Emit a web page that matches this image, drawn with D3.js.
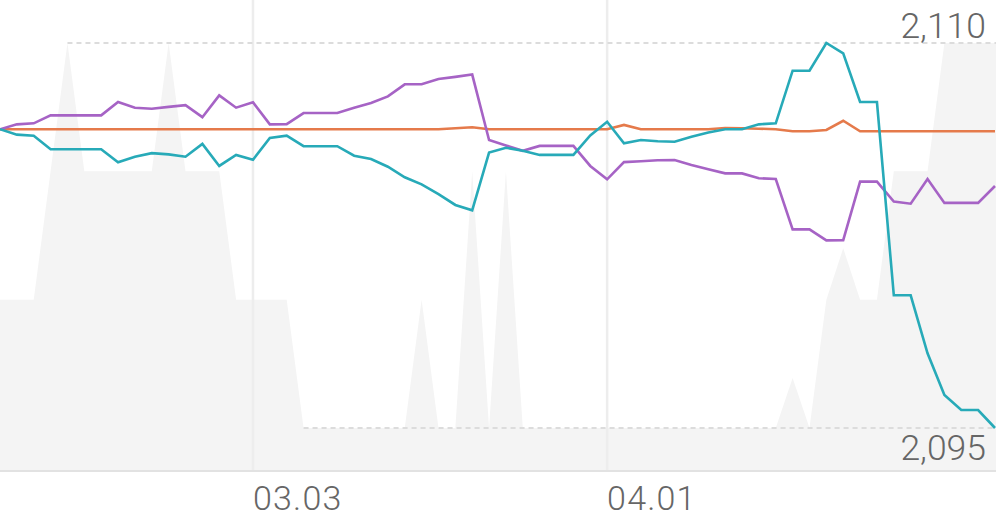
<!DOCTYPE html>
<html><head><meta charset="utf-8">
<script src="https://cdn.jsdelivr.net/npm/d3@7"></script>
<style>html,body{margin:0;padding:0;background:#fff;}svg{display:block;}</style>
</head><body>
<svg id="chart" width="996" height="519"></svg>
<script>
const categories = ["02.10","02.11","02.12","02.13","02.16","02.17","02.18","02.19","02.20","02.23","02.24","02.25","02.26","02.27","03.02","03.03","03.04","03.05","03.06","03.09","03.10","03.11","03.12","03.13","03.16","03.17","03.18","03.19","03.20","03.23","03.24","03.25","03.26","03.27","03.30","03.31","04.01","04.02","04.03","04.06","04.07","04.08","04.09","04.10","04.13","04.14","04.15","04.16","04.17","04.20","04.21","04.22","04.23","04.24","04.27","04.28","04.29","04.30","05.01","05.04"];
const tickLabels = ["03.03","04.01"];
const yTickValues = [2110, 2095];

const seriesCyan = [2106.64,2106.43,2106.39,2105.86,2105.86,2105.86,2105.86,2105.35,2105.57,2105.71,2105.66,2105.57,2106.07,2105.21,2105.64,2105.45,2106.30,2106.39,2105.98,2105.98,2105.98,2105.61,2105.48,2105.18,2104.77,2104.49,2104.11,2103.69,2103.48,2105.73,2105.92,2105.80,2105.64,2105.64,2105.64,2106.40,2106.93,2106.09,2106.22,2106.17,2106.15,2106.35,2106.51,2106.64,2106.64,2106.83,2106.87,2108.92,2108.92,2110.00,2109.60,2107.70,2107.70,2100.17,2100.17,2097.91,2096.29,2095.70,2095.70,2095.00];
const seriesPurple = [2106.64,2106.83,2106.87,2107.18,2107.18,2107.18,2107.18,2107.70,2107.48,2107.44,2107.51,2107.58,2107.11,2107.96,2107.48,2107.69,2106.83,2106.84,2107.27,2107.27,2107.27,2107.48,2107.66,2107.92,2108.39,2108.39,2108.60,2108.68,2108.77,2106.22,2106.01,2105.80,2105.99,2105.99,2105.99,2105.21,2104.69,2105.36,2105.39,2105.43,2105.44,2105.25,2105.08,2104.92,2104.92,2104.73,2104.70,2102.74,2102.74,2102.31,2102.32,2104.60,2104.60,2103.82,2103.74,2104.70,2103.77,2103.77,2103.77,2104.43];
const seriesOrange = [2106.64,2106.64,2106.64,2106.64,2106.64,2106.64,2106.64,2106.64,2106.64,2106.64,2106.64,2106.64,2106.64,2106.64,2106.64,2106.64,2106.64,2106.64,2106.64,2106.64,2106.64,2106.64,2106.64,2106.64,2106.64,2106.64,2106.64,2106.68,2106.72,2106.64,2106.64,2106.64,2106.64,2106.64,2106.64,2106.64,2106.64,2106.81,2106.64,2106.64,2106.64,2106.64,2106.64,2106.69,2106.68,2106.66,2106.64,2106.56,2106.56,2106.61,2106.97,2106.56,2106.56,2106.56,2106.56,2106.56,2106.56,2106.56,2106.56,2106.56];
const seriesArea = [1,1,1,2,3,2,2,2,2,2,3,2,2,2,1,1,1,1,0,0,0,0,0,0,0,1,0,0,2,0,2,0,0,0,0,0,0,0,0,0,0,0,0,0,0,0,0,0.39,0,1,1.4,1,1,2,2,2,3,3,3,3];

const W = 996, H = 519, plotBottom = 470;
const svg = d3.select("#chart");

const x = d3.scalePoint().domain(categories).range([0, 995]).padding(0);
const y = d3.scaleLinear().domain([2095, 2110]).range([428, 43]);
const ya = d3.scaleLinear().domain([0, 3]).range([y(2095), y(2110)]);

const font = "Roboto, 'Noto Sans', sans-serif";

// background area
const area = d3.area()
  .x((d, i) => i === categories.length - 1 ? W : x(categories[i]))
  .y0(plotBottom)
  .y1(d => ya(d));
svg.append("path").datum(seriesArea).attr("d", area).attr("fill", "#f4f4f4");

// vertical grid lines
svg.append("g").selectAll("line").data(tickLabels).join("line")
  .attr("x1", d => x(d)).attr("x2", d => x(d))
  .attr("y1", 0).attr("y2", plotBottom)
  .attr("stroke", "#ededed").attr("stroke-width", 2.5);

// bottom axis line
svg.append("line").attr("x1", 0).attr("x2", W)
  .attr("y1", plotBottom + 1).attr("y2", plotBottom + 1)
  .attr("stroke", "#e2e2e2").attr("stroke-width", 2);

// dashed reference lines (max / min)
const maxLevel = d3.max(seriesArea), minLevel = d3.min(seriesArea);
const refs = [
  {v: yTickValues[0], start: seriesArea.findIndex(v => v === maxLevel)},
  {v: yTickValues[1], start: seriesArea.findIndex(v => v === minLevel)}
];
svg.append("g").selectAll("line").data(refs).join("line")
  .attr("x1", d => x(categories[d.start])).attr("x2", W)
  .attr("y1", d => y(d.v)).attr("y2", d => y(d.v))
  .attr("stroke", "#dcdcdc").attr("stroke-width", 2)
  .attr("stroke-dasharray", "5,4");

// lines
const line = d3.line().x((d, i) => x(categories[i])).y(d => y(d));
const lines = [
  {data: seriesOrange, color: "#e57a4b"},
  {data: seriesPurple, color: "#a663c5"},
  {data: seriesCyan, color: "#27aab8"}
];
svg.append("g").selectAll("path").data(lines).join("path")
  .attr("d", d => line(d.data))
  .attr("fill", "none").attr("stroke", d => d.color)
  .attr("stroke-width", 2.6).attr("stroke-linejoin", "miter");

// y labels
const fmt = d3.format(",");
svg.append("text").attr("x", 986).attr("y", 38)
  .attr("text-anchor", "end").attr("font-family", font).attr("font-weight", 300)
  .attr("font-size", 35.5).attr("fill", "#666").text(fmt(yTickValues[0]));
svg.append("text").attr("x", 986).attr("y", 460)
  .attr("text-anchor", "end").attr("font-family", font).attr("font-weight", 300)
  .attr("font-size", 35.5).attr("fill", "#666").text(fmt(yTickValues[1]));

// x labels
svg.append("g").selectAll("text").data(tickLabels).join("text")
  .attr("x", d => x(d)).attr("y", 510)
  .attr("font-family", font).attr("font-weight", 300)
  .attr("font-size", 34).attr("letter-spacing", 1.2).attr("fill", "#666").text(d => d);
</script>
</body></html>
